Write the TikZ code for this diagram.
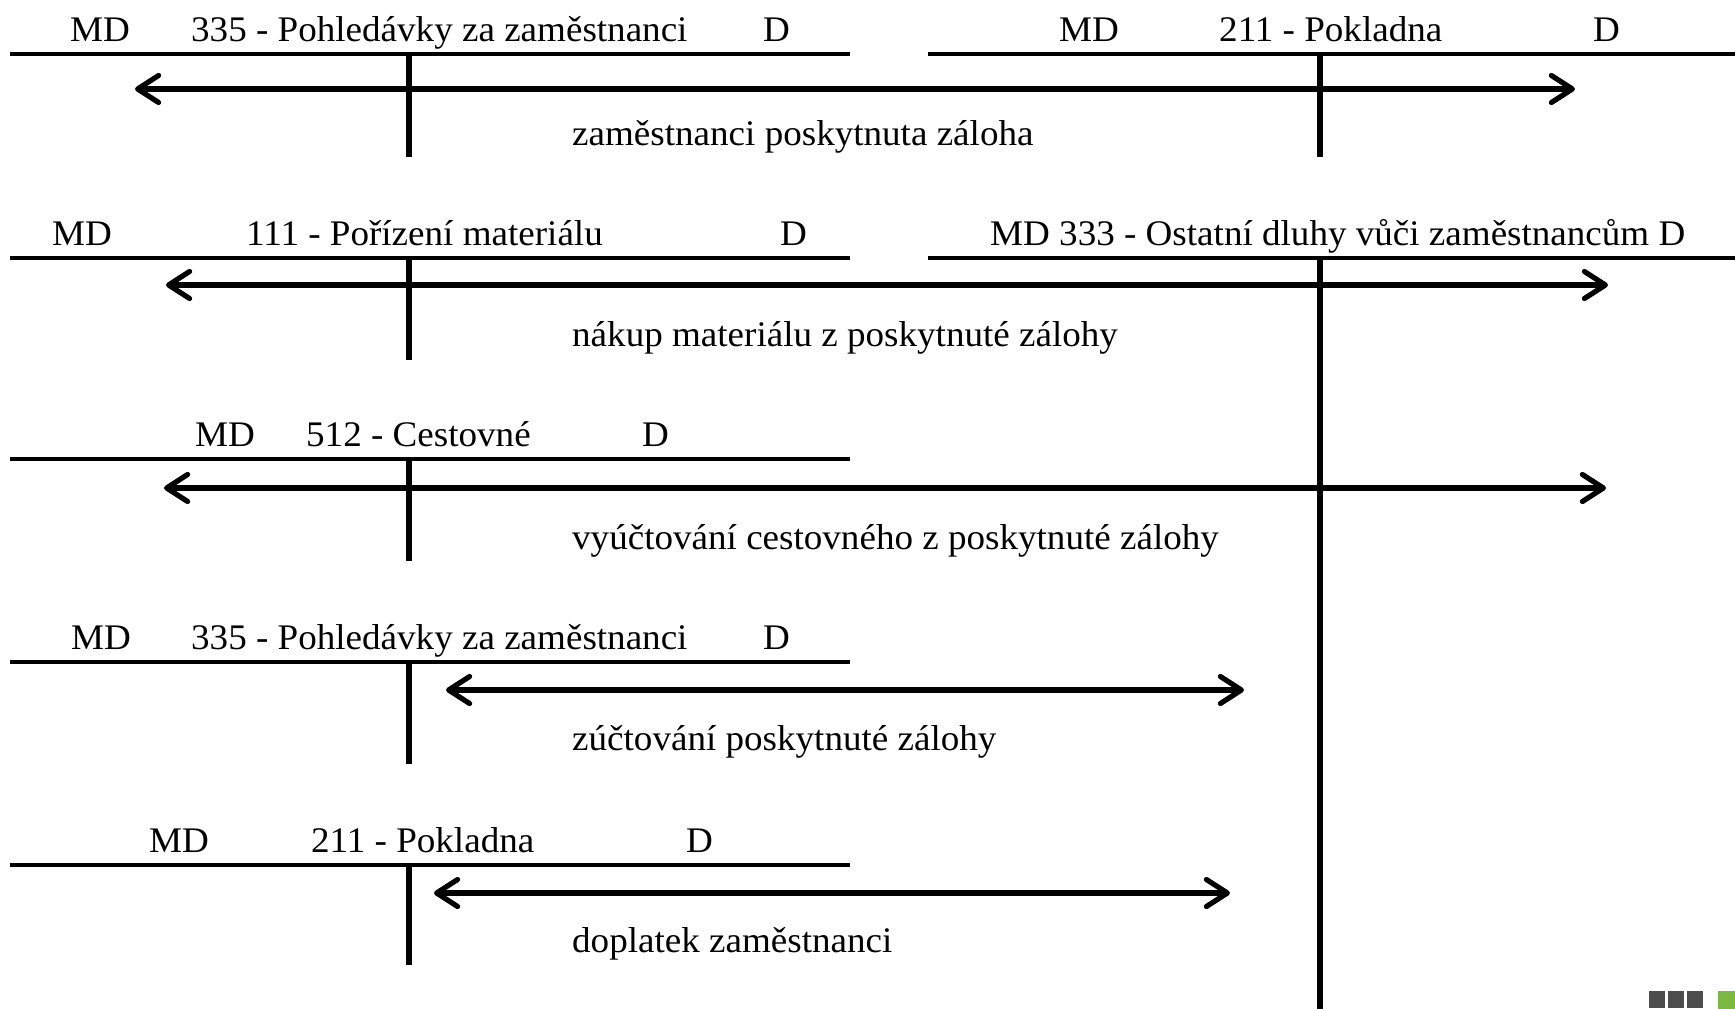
\documentclass[tikz,border=0pt]{standalone}
\usepackage{fontspec}
\setmainfont{Liberation Serif}[FakeStretch=1.03]
\usetikzlibrary{arrows.meta}
\definecolor{dkgray}{HTML}{4D4D4D}
\definecolor{lgreen}{HTML}{7CB940}
\begin{document}
\begin{tikzpicture}[x=1pt,y=-1pt,
  txt/.style={anchor=base west, inner sep=0pt, font=\fontsize{36}{42}\selectfont},
  tline/.style={line width=4.8pt},
  tvert/.style={line width=5.4pt},
  flow/.style={line width=5.2pt, {Straight Barb[length=21pt,width=27pt,round]}-{Straight Barb[length=21pt,width=27pt,round]}},
  sq/.style={fill=dkgray, draw=none},
  sqg/.style={fill=lgreen, draw=none}]
\useasboundingbox (0,0) rectangle (1735,1009);

% ---------- Row 1 ----------
\node[txt] (r1md)  at (70,41)   {MD};
\node[txt] (r1nm)  at (191,41)  {335 - Pohledávky za zaměstnanci};
\node[txt] (r1d)   at (763,41)  {D};
\node[txt] (r1bmd) at (1059,41) {MD};
\node[txt] (r1bnm) at (1219,41) {211 - Pokladna};
\node[txt] (r1bd)  at (1593,41) {D};
\coordinate (a1l) at (10,54);   \coordinate (a1r) at (850,54);
\coordinate (b1l) at (928,54);  \coordinate (b1r) at (1735,54);
\coordinate (a1t) at (409,54);  \coordinate (a1b) at (409,157);
\coordinate (b1t) at (1320,54); \coordinate (b1b) at (1320,157);
\draw[tline] (a1l) -- (a1r);
\draw[tline] (b1l) -- (b1r);
\draw[tvert] (a1t) -- (a1b);
\draw[tvert] (b1t) -- (b1b);
\coordinate (f1s) at (135,89); \coordinate (f1e) at (1575,89);
\draw[flow] (f1s) -- (f1e);
\node[txt] (l1) at (572,145) {zaměstnanci poskytnuta záloha};

% ---------- Row 2 ----------
\node[txt] (r2md)  at (52,245)  {MD};
\node[txt] (r2nm)  at (246,245) {111 - Pořízení materiálu};
\node[txt] (r2d)   at (780,245) {D};
\node[txt] (r2b)   at (990,245) {MD 333 - Ostatní dluhy vůči zaměstnancům D};
\coordinate (a2l) at (10,258);   \coordinate (a2r) at (850,258);
\coordinate (b2l) at (928,258);  \coordinate (b2r) at (1735,258);
\coordinate (a2t) at (409,258);  \coordinate (a2b) at (409,360);
\coordinate (b2t) at (1320,258); \coordinate (b2b) at (1320,1009);
\draw[tline] (a2l) -- (a2r);
\draw[tline] (b2l) -- (b2r);
\draw[tvert] (a2t) -- (a2b);
\draw[tvert] (b2t) -- (b2b);
\coordinate (f2s) at (166,285); \coordinate (f2e) at (1608,285);
\draw[flow] (f2s) -- (f2e);
\node[txt] (l2) at (572,346) {nákup materiálu z poskytnuté zálohy};

% ---------- Row 3 ----------
\node[txt] (r3md) at (195,446) {MD};
\node[txt] (r3nm) at (306,446) {512 - Cestovné};
\node[txt] (r3d)  at (642,446) {D};
\coordinate (a3l) at (10,459);  \coordinate (a3r) at (850,459);
\coordinate (a3t) at (409,459); \coordinate (a3b) at (409,561);
\draw[tline] (a3l) -- (a3r);
\draw[tvert] (a3t) -- (a3b);
\coordinate (f3s) at (164,488); \coordinate (f3e) at (1606,488);
\draw[flow] (f3s) -- (f3e);
\node[txt] (l3) at (572,549) {vyúčtování cestovného z poskytnuté zálohy};

% ---------- Row 4 ----------
\node[txt] (r4md) at (71,649)  {MD};
\node[txt] (r4nm) at (191,649) {335 - Pohledávky za zaměstnanci};
\node[txt] (r4d)  at (763,649) {D};
\coordinate (a4l) at (10,662);  \coordinate (a4r) at (850,662);
\coordinate (a4t) at (409,662); \coordinate (a4b) at (409,764);
\draw[tline] (a4l) -- (a4r);
\draw[tvert] (a4t) -- (a4b);
\coordinate (f4s) at (446,690); \coordinate (f4e) at (1244,690);
\draw[flow] (f4s) -- (f4e);
\node[txt] (l4) at (572,750) {zúčtování poskytnuté zálohy};

% ---------- Row 5 ----------
\node[txt] (r5md) at (149,852) {MD};
\node[txt] (r5nm) at (311,852) {211 - Pokladna};
\node[txt] (r5d)  at (686,852) {D};
\coordinate (a5l) at (10,865);  \coordinate (a5r) at (850,865);
\coordinate (a5t) at (409,865); \coordinate (a5b) at (409,965);
\draw[tline] (a5l) -- (a5r);
\draw[tvert] (a5t) -- (a5b);
\coordinate (f5s) at (434,893); \coordinate (f5e) at (1230,893);
\draw[flow] (f5s) -- (f5e);
\node[txt] (l5) at (572,952) {doplatek zaměstnanci};

% ---------- corner squares ----------
\fill[sq]  (1649,991) rectangle (1665,1008);
\fill[sq]  (1668,991) rectangle (1684,1008);
\fill[sq]  (1687,991) rectangle (1703,1008);
\fill[sqg] (1718,991) rectangle (1735,1009);
\end{tikzpicture}
\end{document}
